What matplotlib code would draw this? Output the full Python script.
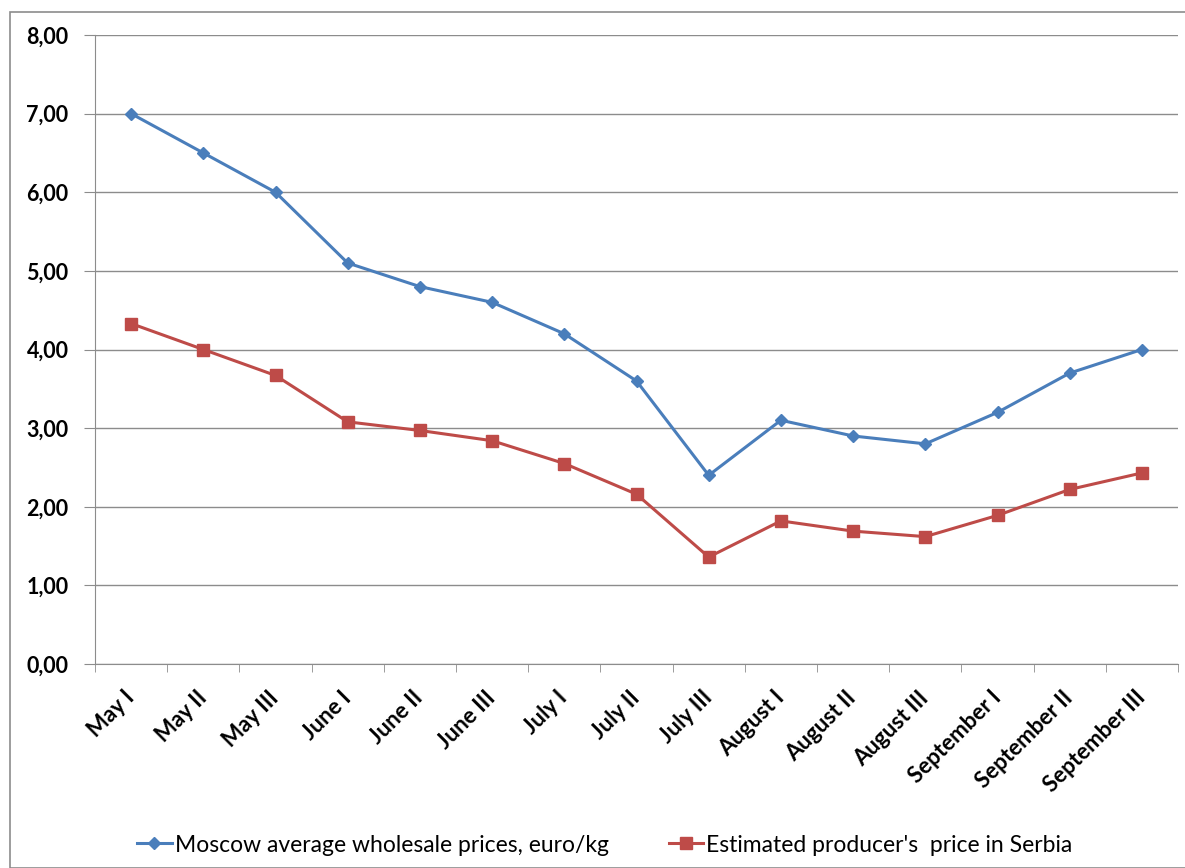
import numpy as np
import matplotlib
matplotlib.use('Agg')
import matplotlib.pyplot as plt
from matplotlib.patches import Rectangle

# data
periods = ['May I', 'May II', 'May III', 'June I', 'June II', 'June III',
           'July I', 'July II', 'July III', 'August I', 'August II', 'August III',
           'September I', 'September II', 'September III']
moscow = [7.00, 6.50, 6.00, 5.10, 4.80, 4.60, 4.20, 3.60, 2.40, 3.10, 2.90, 2.80, 3.20, 3.70, 4.00]
serbia = [4.33, 4.00, 3.67, 3.08, 2.97, 2.84, 2.55, 2.16, 1.36, 1.82, 1.69, 1.62, 1.89, 2.22, 2.43]
yticks = [0, 1, 2, 3, 4, 5, 6, 7, 8]

plt.rcParams['font.family'] = ['Lato', 'DejaVu Sans']

fig = plt.figure(figsize=(11.85, 8.68), dpi=100)
fig.patches.append(Rectangle((10/1185, 0), 1.2, 1 - 12/868, transform=fig.transFigure,
                             fill=False, edgecolor='#8c8c8c', linewidth=1.2))

ax = fig.add_axes([95/1185, 1 - 664/868, 1083/1185, (664 - 35)/868])

x = np.arange(len(periods))
ax.plot(x, moscow, color='#4A7EBB', lw=2.2, marker='D', ms=6.5,
        label='Moscow average wholesale prices, euro/kg')
ax.plot(x, serbia, color='#BE4B48', lw=2.2, marker='s', ms=8,
        label="Estimated producer's  price in Serbia")

ax.set_xlim(-0.5, len(periods) - 0.5)
ax.set_ylim(0, 8)
ax.set_yticks(yticks)
ax.set_yticklabels([f'{v:.2f}'.replace('.', ',') for v in yticks],
                   fontsize=15.5, fontweight='bold')
ax.yaxis.grid(True, color='#8c8c8c', lw=1)
ax.set_axisbelow(True)

ax.set_xticks(x)
ax.set_xticklabels(periods, rotation=45, ha='right', va='center', rotation_mode='anchor',
                   fontsize=16, fontweight='bold')
ax.set_xticks(np.arange(len(periods) + 1) - 0.5, minor=True)
ax.tick_params(axis='x', which='major', length=0, pad=22)
ax.tick_params(axis='x', which='minor', length=6, color='#8c8c8c', direction='out')
ax.tick_params(axis='y', length=8, color='#8c8c8c', pad=11)

for s in ['top', 'right']:
    ax.spines[s].set_visible(False)
for s in ['left', 'bottom']:
    ax.spines[s].set_color('#8c8c8c')

fig.legend(loc='center', bbox_to_anchor=(605/1185, 1 - 845/868), ncol=2, frameon=False,
           fontsize=16.5, handlelength=1.5, handletextpad=0.15, columnspacing=2.6)

fig.savefig('out.png', dpi=100)
